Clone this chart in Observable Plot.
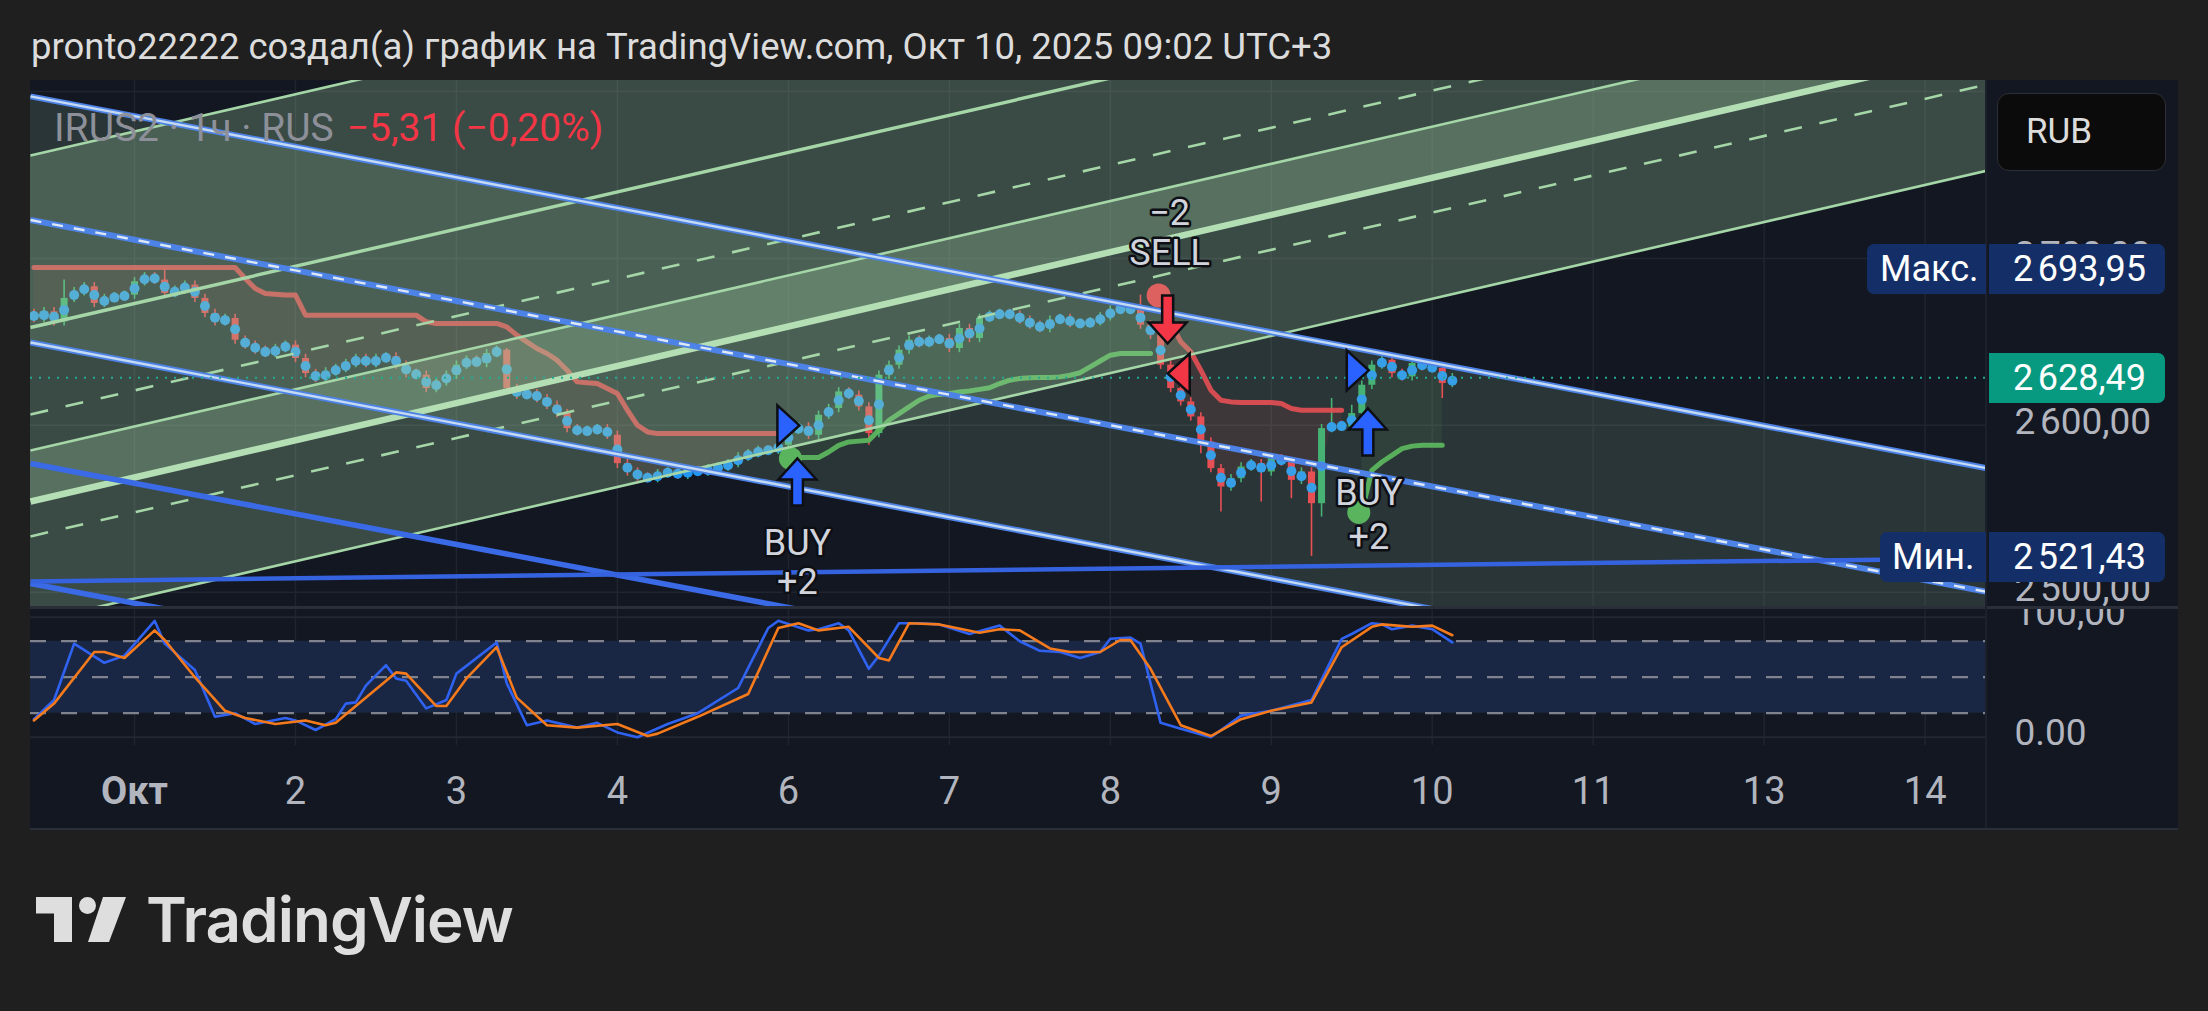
<!DOCTYPE html>
<html lang="ru">
<head>
<meta charset="utf-8">
<script src="https://cdn.jsdelivr.net/npm/d3@7"></script>
<script src="https://cdn.jsdelivr.net/npm/@observablehq/plot@0.6"></script>
<style>
  html, body { margin:0; padding:0; width:2208px; height:1011px; background:#1f1f1f; overflow:hidden; font-family: Roboto, "Noto Sans", sans-serif; }
  #title { position:absolute; left:31px; top:26px; font-size:36.5px; line-height:42px; color:#dcdcdc; white-space:nowrap; }
  #panel { position:absolute; left:30px; top:80px; width:2148px; height:750px; background:#131722; overflow:hidden; }
  #main { position:absolute; left:0; top:0; width:2148px; height:528px; }
  #stoch { position:absolute; left:0; top:528px; width:2148px; height:222px; }
  #sep { position:absolute; left:0; top:526px; width:2148px; height:3px; background:#2a2e39; }
  #vsep { position:absolute; left:1955px; top:0; width:2px; height:750px; background:#1c202b; }
  #bsep { position:absolute; left:0; top:748px; width:2148px; height:2px; background:#2a2e39; }
  #legend { position:absolute; left:24px; top:26px; font-size:39px; line-height:44px; white-space:nowrap; color:#8d9099; }
  #legend .chg { color:#f23645; margin-left:13px; }
  .box { position:absolute; height:50px; line-height:50px; color:#ffffff; font-size:36px; white-space:nowrap; box-sizing:border-box; }
  #rub { position:absolute; left:1967px; top:13px; width:169px; height:78px; box-sizing:border-box; border:1.5px solid #2c2f36; border-radius:12px; background:#0b0b0c; color:#dcdcdc; font-size:35px; line-height:75px; padding-left:28px; }
  #logo { position:absolute; left:0; top:860px; }
</style>
</head>
<body>
<div id="title">pronto22222 создал(а) график на TradingView.com, Окт 10, 2025 09:02 UTC+3</div>
<div id="panel">
  <div id="main"></div>
  <div id="stoch"></div>
  <div id="sep"></div>
  <div id="vsep"></div>
  <div id="bsep"></div>
  <div id="legend"></div>
  <div id="rub">RUB</div>
</div>
<svg id="logo" width="600" height="151" viewBox="0 860 600 151">
  <rect x="36" y="897" width="36" height="16.5" fill="#dedede"/>
  <rect x="54" y="897" width="18" height="45" fill="#dedede"/>
  <circle cx="87.5" cy="905.5" r="8.5" fill="#dedede"/>
  <polygon points="103,897 126,897 109,942 88,942" fill="#dedede"/>
  <text x="146" y="942" font-family="Inter, Roboto, sans-serif" font-weight="600" font-size="62" fill="#dedede" letter-spacing="-1">TradingView</text>
</svg>
<script>
// ---------- visible ranges (bar index / price / stochastic) ----------
const BAR0 = -10.34, BAR1 = 184.0;
const PRICE_LO = 2490.2, PRICE_HI = 2806.6;
const STOCH_LO = -6.9, STOCH_HI = 107.25;

// ---------- time axis ----------
const dayTicks  = [0, 16, 32, 48, 65, 81, 97, 113, 129, 145, 162, 178];
const dayLabels = ["Окт", "2", "3", "4", "6", "7", "8", "9", "10", "11", "13", "14"];

// ---------- price series (hourly closes, from bar -10 to bar 131) ----------
const firstBar = -10;
const firstOpen = 2667;
const closes = [
  2664, 2668, 2662, 2676, 2680, 2683, 2673, 2676, 2677, 2678,
  2686, 2689, 2687, 2679, 2681, 2684, 2676, 2667, 2662, 2664,
  2651, 2648, 2645, 2643, 2646, 2648, 2640, 2631, 2628, 2632,
  2634, 2637, 2640, 2637, 2640, 2641, 2636, 2631, 2630, 2622,
  2626, 2630, 2636, 2639, 2637, 2643, 2645, 2622, 2618, 2619,
  2616, 2612, 2607, 2598, 2596, 2597, 2598, 2594, 2577, 2572,
  2569, 2568, 2571, 2572, 2570, 2573, 2572, 2574, 2575, 2577,
  2581, 2583, 2585, 2585, 2588, 2597, 2599, 2594, 2606, 2610,
  2620, 2618, 2611, 2595, 2630, 2636, 2645, 2651, 2649, 2651,
  2652, 2646, 2658, 2652, 2664, 2666, 2667, 2666, 2663, 2660,
  2658, 2663, 2664, 2661, 2661, 2662, 2665, 2669, 2670, 2669,
  2660, 2654, 2636, 2622, 2614, 2605, 2590, 2574, 2563, 2568,
  2575, 2577, 2572, 2580, 2578, 2567, 2572, 2553, 2598, 2600,
  2599, 2607, 2624, 2636, 2639, 2631, 2629, 2637, 2635, 2634,
  2625, 2628.49
];
const baseWick = 2.5;
const extremeHigh = { "-7": 2687, 3: 2693.95, 37: 2646, 100: 2678, 119: 2616, 121: 2612 };
const extremeLow  = { 37: 2620, 48: 2574, 73: 2588, 106: 2583, 108: 2548, 112: 2554, 115: 2556, 117: 2521.43, 118: 2545, 130: 2616 };
const lastPrice = 2628.49, maxPrice = 2693.95, minPrice = 2521.43;
const legendName = "IRUS2 · 1ч · RUS";
const legendChange = "−5,31 (−0,20%)";
const priceTicks = [2500, 2600, 2700];
const priceGrid = [2500, 2600, 2700, 2800];

// ---------- supertrend ----------
const redST1Start = -10;
const redST1 = [
  2694.5, 2694.5, 2694.5, 2694.5, 2694.5, 2694.5, 2694.5, 2694.5, 2694.5, 2694.5,
  2694.5, 2694.5, 2694.5, 2694.5, 2694.5, 2694.5, 2694.5, 2694.5, 2694.5, 2694.5,
  2694.5, 2688, 2682, 2679, 2678.5, 2678, 2678, 2666, 2666, 2666,
  2666, 2666, 2666, 2666, 2666, 2666, 2666, 2666, 2666, 2662,
  2661, 2661, 2661, 2661, 2661, 2661, 2661, 2659, 2654, 2650,
  2646, 2643, 2639, 2633, 2626, 2625.5, 2625, 2622, 2619, 2609,
  2600, 2596, 2595, 2595, 2595, 2595, 2595, 2595, 2595, 2595,
  2595, 2595, 2595, 2595, 2595
];
const greenST1Start = 65;
const greenST1 = [
  2580.7, 2580.7, 2580.7, 2580.7, 2584, 2588, 2590, 2590.5, 2591, 2597,
  2603, 2607, 2611, 2615, 2617.5, 2618.5, 2619, 2620, 2620.5, 2621.5,
  2622.5, 2625, 2627, 2628, 2628.5, 2628.6, 2628.6, 2629, 2630, 2631.5,
  2635, 2638.5, 2642, 2643, 2643, 2643, 2643
];
const redST2Start = 102;
const redST2 = [2676, 2662, 2650, 2644, 2633, 2621, 2615, 2614, 2613.7, 2613.7, 2613.7, 2613.7, 2613, 2610, 2609, 2609, 2609, 2609, 2609];
const greenST2Start = 122;
const greenST2 = [2548, 2573, 2578, 2582, 2586, 2587.5, 2588, 2588, 2588];

// ---------- signals ----------
const circleBars   = [65.2, 101.8, 121.7];
const circlePrices = [2580.1, 2677.8, 2547.8];
const circleKinds  = ["buy", "sell", "buy"];
const triBars   = [65.0, 103.8, 121.6];
const triPrices = [2599.9, 2631.0, 2632.9];
const triKinds  = ["buy", "sell", "buy"];
const arrowBars = [65.9, 102.7, 122.6];
const arrowTips = [2580.1, 2649.0, 2610.1];
const arrowKinds = ["buy", "sell", "buy"];
const sigTextBars   = [65.9, 65.9, 102.9, 102.9, 122.7, 122.7];
const sigTextPrices = [2529.2, 2505.8, 2702.9, 2726.8, 2559.1, 2532.8];
const sigTextLabels = ["BUY", "+2", "SELL", "−2", "BUY", "+2"];

// ---------- drawn channels: price at left edge (BAR0) and right edge (BAR1) ----------
const greenStart  = [2761.7, 2658.6, 2606.5, 2584.9, 2554.3, 2533.4, 2481.8];
const greenEnd    = [3032.3, 2929.2, 2877.1, 2855.5, 2824.9, 2804.0, 2752.4];
const greenStyles = ["thin", "mid", "dash", "thin", "thick", "dash", "thin"];
const blueStart  = [2797.1, 2723.0, 2649.6, 2577.1, 2505.2];
const blueEnd    = [2574.4, 2500.3, 2426.9, 2354.4, 2282.5];
const blueStyles = ["light", "dash", "light", "solid", "solid"];
const flatStart = 2506.4, flatEnd = 2520.2;

// ---------- stochastic ----------
const kBars = [-10,-8,-6,-3,-1,2,3,6,8,10,12,15,16,18,20,21,22,23,25,26,27,29,31,32,36,37,39,41,44,46,48,50,53,56,60,63,64,67,68,70,71,73,74,76,78,80,83,86,88,90,92,94,96,97,99,100,102,104,107,110,113,117,120,121,123,124,125,127,129,131];
const kVals = [15,31,78,62,68,97,78,56,17,20,11,16,14,6,15,28,29,43,60,49,47,24,31,53,79,45,10,14,8,12,4,0,11,20,41,91,97,89,90,95,89,57,68,95,95,94,86,93,80,72,71,66,71,82,83,78,12,7,0,18,22,31,82,86,95,94,90,93,90,79];
const dBars = [-10,-8,-4,-3,-1,2,3,6,9,11,14,17,19,20,22,26,27,30,31,33,36,38,41,44,48,51,52,56,61,64,66,68,71,74,75,77,80,84,86,88,91,93,96,98,99,101,104,107,110,113,117,120,123,124,127,129,131];
const dVals = [14,28,71,71,66,89,81,50,22,16,11,14,10,12,26,54,53,26,26,49,75,33,10,8,11,1,3,17,36,91,95,89,92,66,64,95,94,87,90,89,74,71,71,81,81,57,10,1,15,22,29,75,92,94,92,93,85];
const stochLevels = [20, 50, 80];
const stochBand = [20, 80];
const stochTicks = [0, 100];
const stochTickLabels = ["0.00", "100,00"];

// ================= build tables =================
const candles = closes.map((c, k) => {
  const bar = firstBar + k;
  const open = k === 0 ? firstOpen : closes[k - 1];
  const top = Math.max(open, c), bot = Math.min(open, c);
  return { bar, open, close: c, top, bot,
    high: extremeHigh[bar] ?? top + baseWick,
    low: extremeLow[bar] ?? bot - baseWick,
    mid: (open + c) / 2, up: c >= open };
});
const byBar = new Map(candles.map(d => [d.bar, d]));
const stTable = (start, vals) => vals.map((v, k) => ({ bar: start + k, st: v, mid: byBar.get(start + k)?.mid ?? v }));
const red1 = stTable(redST1Start, redST1), green1 = stTable(greenST1Start, greenST1);
const red2 = stTable(redST2Start, redST2), green2 = stTable(greenST2Start, greenST2);

const band = (lo0, lo1, hi0, hi1) => [{ x: BAR0, y1: lo0, y2: hi0 }, { x: BAR1, y1: lo1, y2: hi1 }];
const greenLinks = greenStart.map((s, k) => ({ x1: BAR0, y1: s, x2: BAR1, y2: greenEnd[k], style: greenStyles[k] }));
const blueLinks = blueStart.map((s, k) => ({ x1: BAR0, y1: s, x2: BAR1, y2: blueEnd[k], style: blueStyles[k] }));
const flatLink = [{ x1: BAR0, y1: flatStart, x2: BAR1, y2: flatEnd }];

const circles = circleBars.map((b, k) => ({ bar: b, price: circlePrices[k], kind: circleKinds[k] }));
const tris = triBars.map((b, k) => ({ bar: b, price: triPrices[k], kind: triKinds[k] }));
const arrows = arrowBars.map((b, k) => ({ bar: b, tip: arrowTips[k], kind: arrowKinds[k], rot: arrowKinds[k] === "buy" ? 0 : 180 }));
const sigTexts = sigTextBars.map((b, k) => ({ bar: b, price: sigTextPrices[k], label: sigTextLabels[k] }));
const days = dayTicks.map((b, k) => ({ bar: b, label: dayLabels[k] }));
const kLine = kBars.map((b, k) => ({ bar: b, v: kVals[k] }));
const dLine = dBars.map((b, k) => ({ bar: b, v: dVals[k] }));

const fmtPrice = v => {
  const [a, b] = v.toFixed(2).split(".");
  return a.replace(/\B(?=(\d{3})+(?!\d))/g, "\u202f") + "," + b;
};

// ================= shapes =================
const triRight = { draw(ctx, size) { const r = Math.sqrt(size / Math.PI); ctx.moveTo(-0.55 * r, -r); ctx.lineTo(0.55 * r, 0); ctx.lineTo(-0.55 * r, r); ctx.closePath(); } };
const triLeft  = { draw(ctx, size) { const r = Math.sqrt(size / Math.PI); ctx.moveTo(0.55 * r, -r); ctx.lineTo(-0.55 * r, 0); ctx.lineTo(0.55 * r, r); ctx.closePath(); } };
const blockArrow = { draw(ctx, l) { const hw = 19, hh = 21, sw = 5.5;
  ctx.moveTo(0, -l); ctx.lineTo(hw, hh - l); ctx.lineTo(sw, hh - l); ctx.lineTo(sw, 0);
  ctx.lineTo(-sw, 0); ctx.lineTo(-sw, hh - l); ctx.lineTo(-hw, hh - l); ctx.closePath(); } };

// ================= colours =================
const GRID = "#20242f", UP = "#34ad6a", DOWN = "#f23645", DOT = "#2196f3";
const LG = "#a5d6a7", BL = "#4d82e6", BLLIGHT = "#c4daf2";
const AXISFONT = 37;

const main = Plot.plot({
  width: 2148, height: 528,
  marginLeft: 0, marginRight: 193, marginTop: 0, marginBottom: 0,
  style: { background: "transparent", color: "#b2b5be", fontFamily: "Roboto, sans-serif", fontSize: "34px" },
  x: { domain: [BAR0, BAR1], axis: null },
  y: { domain: [PRICE_LO, PRICE_HI], axis: null },
  marks: [
    Plot.ruleX(dayTicks, { stroke: GRID, strokeWidth: 1.5 }),
    Plot.ruleY(priceGrid, { stroke: GRID, strokeWidth: 1.5 }),
    // supertrend fills
    Plot.areaY(red1, { x: "bar", y1: "st", y2: "mid", fill: DOWN, fillOpacity: 0.08 }),
    Plot.areaY(red2, { x: "bar", y1: "st", y2: "mid", fill: DOWN, fillOpacity: 0.1 }),
    Plot.areaY(green1, { x: "bar", y1: "st", y2: "mid", fill: "#4caf50", fillOpacity: 0.08 }),
    Plot.areaY(green2, { x: "bar", y1: "st", y2: "mid", fill: "#4caf50", fillOpacity: 0.1 }),
    // candles
    Plot.ruleX(candles, { filter: d => d.up, x: "bar", y1: "low", y2: "high", stroke: UP, strokeWidth: 1.6 }),
    Plot.ruleX(candles, { filter: d => !d.up, x: "bar", y1: "low", y2: "high", stroke: DOWN, strokeWidth: 1.6 }),
    Plot.ruleX(candles, { filter: d => d.up, x: "bar", y1: "bot", y2: d => Math.max(d.top, d.bot + 0.8), stroke: UP, strokeWidth: 7 }),
    Plot.ruleX(candles, { filter: d => !d.up, x: "bar", y1: "bot", y2: d => Math.max(d.top, d.bot + 0.8), stroke: DOWN, strokeWidth: 7 }),
    Plot.dot(candles, { x: "bar", y: "mid", r: 5, fill: DOT }),
    // supertrend lines
    Plot.line(red1, { x: "bar", y: "st", stroke: DOWN, strokeWidth: 5, strokeOpacity: 0.9 }),
    Plot.line(red2, { x: "bar", y: "st", stroke: DOWN, strokeWidth: 5, strokeOpacity: 0.9 }),
    Plot.line(green1, { x: "bar", y: "st", stroke: "#4caf50", strokeWidth: 5, strokeOpacity: 0.95 }),
    Plot.line(green2, { x: "bar", y: "st", stroke: "#4caf50", strokeWidth: 5, strokeOpacity: 0.95 }),
    Plot.dot(circles, { filter: d => d.kind === "buy", x: "bar", y: "price", r: 11.5, fill: "#4caf50" }),
    Plot.dot(circles, { filter: d => d.kind === "sell", x: "bar", y: "price", r: 12, fill: DOWN }),
    // channel fills
    Plot.areaY(band(blueStart[2], blueEnd[2], blueStart[0], blueEnd[0]), { x: "x", y1: "y1", y2: "y2", fill: LG, fillOpacity: 0.16, clip: true }),
    Plot.areaY(band(greenStart[4], greenEnd[4], greenStart[0], greenEnd[0]), { x: "x", y1: "y1", y2: "y2", fill: LG, fillOpacity: 0.27, clip: true }),
    Plot.areaY(band(greenStart[6], greenEnd[6], greenStart[3], greenEnd[3]), { x: "x", y1: "y1", y2: "y2", fill: LG, fillOpacity: 0.27, clip: true }),
    // green channel lines
    Plot.link(greenLinks, { filter: d => d.style === "thin", x1: "x1", y1: "y1", x2: "x2", y2: "y2", stroke: LG, strokeWidth: 2.6, clip: true }),
    Plot.link(greenLinks, { filter: d => d.style === "mid", x1: "x1", y1: "y1", x2: "x2", y2: "y2", stroke: LG, strokeWidth: 3.4, clip: true }),
    Plot.link(greenLinks, { filter: d => d.style === "dash", x1: "x1", y1: "y1", x2: "x2", y2: "y2", stroke: LG, strokeWidth: 2.6, strokeDasharray: "18,18", clip: true }),
    Plot.link(greenLinks, { filter: d => d.style === "thick", x1: "x1", y1: "y1", x2: "x2", y2: "y2", stroke: "#b4dfb5", strokeWidth: 6.5, clip: true }),
    // blue channel lines
    Plot.link(blueLinks, { filter: d => d.style !== "solid", x1: "x1", y1: "y1", x2: "x2", y2: "y2", stroke: BL, strokeWidth: 6, clip: true }),
    Plot.link(blueLinks, { filter: d => d.style === "light", x1: "x1", y1: "y1", x2: "x2", y2: "y2", stroke: BLLIGHT, strokeWidth: 2.4, clip: true }),
    Plot.link(blueLinks, { filter: d => d.style === "dash", x1: "x1", y1: "y1", x2: "x2", y2: "y2", stroke: "#dde8f5", strokeWidth: 2.4, strokeDasharray: "11,11", clip: true }),
    Plot.link(blueLinks, { filter: d => d.style === "solid", x1: "x1", y1: "y1", x2: "x2", y2: "y2", stroke: "#3a6ae6", strokeWidth: 5.5, clip: true }),
    Plot.link(flatLink, { x1: "x1", y1: "y1", x2: "x2", y2: "y2", stroke: "#3563e0", strokeWidth: 4.5, clip: true }),
    // last price line
    Plot.ruleY([lastPrice], { stroke: "#22ab94", strokeWidth: 2, strokeDasharray: "2,7" }),
    // signals
    Plot.dot(tris, { filter: d => d.kind === "buy", x: "bar", y: "price", r: 20, symbol: triRight, fill: "#2962ff", stroke: "#0d0f14", strokeWidth: 2.5 }),
    Plot.dot(tris, { filter: d => d.kind === "sell", x: "bar", y: "price", r: 20, symbol: triLeft, fill: "#f23645", stroke: "#0d0f14", strokeWidth: 2.5 }),
    Plot.vector(arrows, { filter: d => d.kind === "buy", x: "bar", y: "tip", length: 47, rotate: "rot", anchor: "end", shape: blockArrow, fill: "#2962ff", stroke: "#0d0f14", strokeWidth: 2.5, strokeLinejoin: "miter" }),
    Plot.vector(arrows, { filter: d => d.kind === "sell", x: "bar", y: "tip", length: 48, rotate: "rot", anchor: "end", shape: blockArrow, fill: "#f23645", stroke: "#0d0f14", strokeWidth: 2.5, strokeLinejoin: "miter" }),
    Plot.text(sigTexts, { x: "bar", y: "price", text: "label", fill: "#d1d4dc", stroke: "#0d0f14", strokeWidth: 5, paintOrder: "stroke", fontSize: 36, fontFamily: "Roboto, sans-serif" }),
    // price axis
    Plot.text(priceTicks, { y: d => d, text: fmtPrice, frameAnchor: "right", textAnchor: "start", lineAnchor: "middle", dx: 29, dy: -3, fill: "#b2b5be", fontSize: AXISFONT })
  ]
});
document.getElementById("main").appendChild(main);

const stoch = Plot.plot({
  width: 2148, height: 222,
  marginLeft: 0, marginRight: 193, marginTop: 0, marginBottom: 85,
  style: { background: "transparent", color: "#b2b5be", fontFamily: "Roboto, sans-serif", fontSize: "34px" },
  x: { domain: [BAR0, BAR1], axis: null },
  y: { domain: [STOCH_LO, STOCH_HI], axis: null },
  marks: [
    Plot.ruleX(dayTicks, { y1: STOCH_LO, y2: STOCH_HI, stroke: GRID, strokeWidth: 1.5 }),
    Plot.rect([stochBand], { y1: d => d[0], y2: d => d[1], fill: "#1a2744" }),
    Plot.ruleY(stochTicks, { stroke: "#232733", strokeWidth: 2 }),
    Plot.ruleY(stochLevels, { stroke: "#80838d", strokeWidth: 2.2, strokeDasharray: "16,15" }),
    Plot.line(kLine, { x: "bar", y: "v", stroke: "#2f62f0", strokeWidth: 2.6 }),
    Plot.line(dLine, { x: "bar", y: "v", stroke: "#f57a1c", strokeWidth: 2.6 }),
    Plot.text(stochTicks, { y: d => d, text: (d, i) => stochTickLabels[i], frameAnchor: "right", textAnchor: "start", lineAnchor: "middle", dx: 29, dy: -4, fill: "#b2b5be", fontSize: AXISFONT }),
    Plot.text(days, { filter: d => isNaN(+d.label), x: "bar", text: "label", frameAnchor: "bottom", lineAnchor: "middle", dy: 46, fill: "#b2b5be", fontSize: 38, fontWeight: "bold" }),
    Plot.text(days, { filter: d => !isNaN(+d.label), x: "bar", text: "label", frameAnchor: "bottom", lineAnchor: "middle", dy: 46, fill: "#b2b5be", fontSize: 38 })
  ]
});
document.getElementById("stoch").appendChild(stoch);

// ---------- legend and price-scale labels (positioned with the plot's y scale) ----------
document.getElementById("legend").innerHTML = `${legendName}<span class="chg">${legendChange}</span>`;
const yScale = main.scale("y");
const panel = document.getElementById("panel");
function addBox(left, width, value, text, bg, radius, pad) {
  const el = document.createElement("div");
  el.className = "box";
  el.style.left = left + "px";
  el.style.width = width + "px";
  el.style.top = (yScale.apply(value) - 24) + "px";
  el.style.background = bg;
  el.style.borderRadius = radius;
  el.style.paddingLeft = pad + "px";
  el.textContent = text;
  panel.appendChild(el);
}
addBox(1837, 119, maxPrice, "Макс.", "#142f68", "7px 0 0 7px", 13);
addBox(1959, 176, maxPrice, fmtPrice(maxPrice), "#142f68", "0 7px 7px 0", 24);
addBox(1850, 106, minPrice, "Мин.", "#142f68", "7px 0 0 7px", 12);
addBox(1959, 176, minPrice, fmtPrice(minPrice), "#142f68", "0 7px 7px 0", 24);
addBox(1959, 176, lastPrice, fmtPrice(lastPrice), "#089981", "0 7px 7px 0", 24);
</script>
</body>
</html>
